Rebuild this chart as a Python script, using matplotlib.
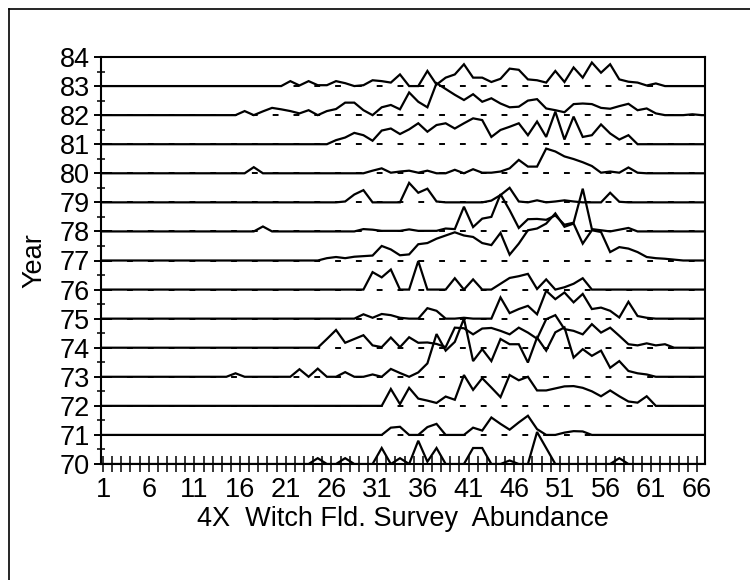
import numpy as np
import matplotlib
import matplotlib.pyplot as plt
from matplotlib.lines import Line2D

matplotlib.use('agg')

plt.rcParams['font.family'] = ['Liberation Sans', 'DejaVu Sans']

# size classes 1..66 (4X Witch flounder survey), one series per year
size_bins = np.arange(1, 67)
years = list(range(70, 84))

def row(start, vals):
    out = [0.0] * 66
    for i, v in enumerate(vals):
        out[start - 1 + i] = v
    return out

ab_83 = row(20, [0, 0.17, 0.02, 0.17, 0.03, 0.03, 0.17, 0.1, 0, 0.03, 0.2, 0.17, 0.12, 0.4, 0, 0,
                 0.52, 0.05, 0.29, 0.4, 0.75, 0.29, 0.29, 0.14, 0.25, 0.6, 0.56, 0.23, 0.2, 0.12,
                 0.52, 0.14, 0.64, 0.29, 0.81, 0.46, 0.75, 0.23, 0.15, 0.12, 0.02, 0.09])
ab_82 = row(16, [0.14, 0, 0.13, 0.25, 0.2, 0.14, 0.06, 0.17, 0, 0.14, 0.21, 0.43, 0.43, 0.17, 0,
                 0.27, 0.35, 0.2, 0.78, 0.46, 0.27, 1.1, 0.9, 0.7, 0.52, 0.72, 0.46, 0.58, 0.4,
                 0.27, 0.29, 0.5, 0.55, 0.23, 0.17, 0.1, 0.38, 0.4, 0.38, 0.25, 0.22, 0.31, 0.39,
                 0.17, 0.23, 0.06, 0, 0, 0, 0.03])
ab_81 = row(26, [0.14, 0.23, 0.39, 0.31, 0.12, 0.47, 0.54, 0.35, 0.51, 0.72, 0.43, 0.66, 0.72,
                 0.54, 0.72, 0.89, 0.83, 0.25, 0.49, 0.6, 0.72, 0.31, 0.78, 0.25, 1.12, 0.16,
                 0.95, 0.25, 0.31, 0.68, 0.37, 0.16, 0.31])
ab_80 = row(17, [0.21] + [0] * 12 +
            [0.09, 0.17, 0.02, 0.06, 0.09, 0.02, 0.09, 0, 0, 0.12, 0, 0.14, 0.02, 0.02, 0.06,
             0.17, 0.46, 0.23, 0.23, 0.85, 0.75, 0.58, 0.49, 0.38, 0.25, 0.02, 0.06, 0.02,
             0.2, 0.02])
ab_79 = row(27, [0.03, 0.27, 0.42, 0, 0, 0, 0, 0.67, 0.33, 0.47, 0.03, 0, 0, 0, 0, 0, 0.06,
                 0.25, 0.5, 0.03, 0, 0.07, 0, 0.03, 0.07, 0.03, 0, 0, 0, 0.33, 0.02])
ab_78 = row(18, [0.17] + [0] * 10 +
            [0.08, 0.06, 0.02, 0.02, 0.02, 0.07, 0.02, 0.02, 0.02, 0.1, 0.08, 0.85, 0.15,
             0.44, 0.5, 1.28, 0.73, 0.12, 0.42, 0.43, 0.4, 0.55, 0.23, 0.3, 1.47, 0.08, 0.04,
             0, 0.06, 0.12])
ab_77 = row(25, [0.08, 0.12, 0.08, 0.13, 0.15, 0.17, 0.5, 0.38, 0.18, 0.21, 0.56, 0.6, 0.75,
                 0.86, 0.97, 0.86, 0.81, 0.6, 0.53, 0.95, 0.2, 0.58, 1.04, 1.1, 1.27, 1.62,
                 1.16, 1.27, 0.58, 1.04, 0.98, 0.29, 0.46, 0.41, 0.29, 0.12, 0.08, 0.06, 0.03])
ab_76 = row(30, [0.6, 0.42, 0.69, 0, 0, 0.98, 0, 0, 0, 0.39, 0, 0.35, 0, 0, 0.2, 0.4, 0.46,
                 0.54, 0.02, 0.35, 0, 0.08, 0.2, 0.39])
ab_75 = row(29, [0.15, 0.03, 0.16, 0.12, 0.03, 0, 0, 0.36, 0.27, 0, 0, 0.03, 0, 0, 0, 0.73,
                 0.19, 0.33, 0.44, 0.15, 0.96, 0.67, 0.9, 0.56, 0.85, 0.33, 0.38, 0.27, 0.04,
                 0.58, 0.09, 0.03])
ab_74 = row(25, [0.3, 0.61, 0.17, 0.3, 0.43, 0.08, 0.02, 0.35, 0.02, 0.36, 0.17, 0.18, 0.13,
                 0.02, 0.69, 0.67, 0.46, 0.66, 0.68, 0.58, 0.46, 0.69, 0.52, 0.31, 0.98, 1.12,
                 0.64, 0.58, 0.46, 0.81, 0.52, 0.69, 0.41, 0.12, 0.08, 0.15, 0.08, 0.12])
ab_73 = row(15, [0.12, 0, 0, 0, 0, 0, 0, 0.26, 0, 0.28, 0, 0, 0.16, 0, 0, 0.08, 0, 0.27, 0.13,
                 0, 0.15, 0.46, 1.47, 0.9, 1.2, 2.0, 0.54, 0.95, 0.54, 1.3, 1.12, 1.12, 0.49,
                 1.35, 0.9, 1.53, 1.7, 0.66, 0.95, 0.72, 0.9, 0.31, 0.54, 0.2, 0.12, 0.08])
ab_72 = row(32, [0.58, 0.06, 0.62, 0.25, 0.18, 0.1, 0.32, 0.21, 1.06, 0.55, 0.95, 0.63, 0.3,
                 1.06, 0.88, 1.0, 0.53, 0.53, 0.6, 0.67, 0.68, 0.62, 0.5, 0.33, 0.53, 0.33,
                 0.15, 0.11, 0.33])
ab_71 = row(32, [0.25, 0.28, 0, 0, 0.27, 0.38, 0, 0, 0, 0.25, 0.15, 0.6, 0.38, 0.18, 0.43,
                 0.66, 0.2, 0, 0, 0.08, 0.13, 0.12])
ab_70 = row(24, [0.2, 0, 0, 0.2, 0, 0, 0, 0.55, 0, 0.2, 0, 0.8, 0.08, 0.55, 0, 0, 0, 0.55,
                 0.55, 0, 0, 0.12, 0, 0, 1.1, 0.55, 0, 0, 0, 0, 0, 0, 0, 0.2])

series = {70: ab_70, 71: ab_71, 72: ab_72, 73: ab_73, 74: ab_74, 75: ab_75, 76: ab_76,
          77: ab_77, 78: ab_78, 79: ab_79, 80: ab_80, 81: ab_81, 82: ab_82, 83: ab_83}

xlo, xhi = 0.78, 66.88

fig = plt.figure(figsize=[7.5, 5.8], dpi=100)
ax = fig.add_axes([101 / 750, 1 - 464 / 580, 604 / 750, 407 / 580])

for yr in years:
    # dashed baseline shows through wherever the curve lifts off
    ax.plot([xlo, xhi], [yr, yr], color='black', lw=1.4,
            linestyle=(8.0, (3.0, 7.7)), zorder=2)
    xs = np.concatenate([[xlo], size_bins + 0.5, [xhi]])
    ys = yr + np.concatenate([[0], series[yr], [0]])
    ax.plot(xs, ys, color='black', lw=1.6, solid_joinstyle='miter', zorder=3)

ax.set_xlim(xlo, xhi)
ax.set_ylim(70, 84)
ax.set_xticks(range(1, 67))
ax.set_xticklabels([str(v) if (v - 1) % 5 == 0 else '' for v in range(1, 67)])
ax.set_yticks(range(70, 85))
ax.set_yticks(np.arange(70.5, 84, 1), minor=True)
ax.tick_params(axis='x', direction='inout', length=11, width=1.1, labelsize=19.5, pad=4)
ax.tick_params(axis='y', direction='inout', length=10, width=1.4, labelsize=19.5, pad=3)
ax.tick_params(axis='y', which='minor', direction='inout', length=6, width=1.1)
for s in ax.spines.values():
    s.set_linewidth(1.5)

ax.set_xlabel("4X  Witch Fld. Survey  Abundance", fontsize=19.5, labelpad=2)
ax.set_ylabel("Year", fontsize=19.5, labelpad=9)

# outer frame of the page
fig.add_artist(Line2D([9 / 750, 9 / 750], [0, 1 - 9 / 580], transform=fig.transFigure,
                      color='black', lw=1.2))
fig.add_artist(Line2D([9 / 750, 1], [1 - 9 / 580, 1 - 9 / 580], transform=fig.transFigure,
                      color='black', lw=1.2))

plt.savefig("out.png", dpi=100)
plt.close()
